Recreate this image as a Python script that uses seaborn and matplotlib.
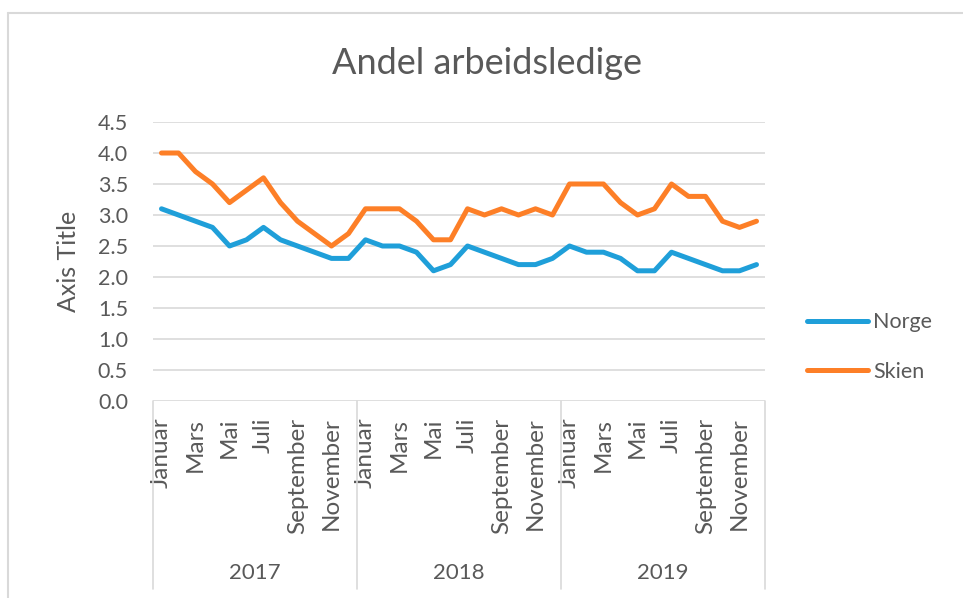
import matplotlib
matplotlib.use("Agg")
import matplotlib.pyplot as plt
import seaborn as sns
import pandas as pd
import numpy as np
from matplotlib.lines import Line2D
import matplotlib.transforms as mtransforms

years = ["2017", "2018", "2019"]
months = ["Januar", "Februar", "Mars", "April", "Mai", "Juni", "Juli",
          "August", "September", "Oktober", "November", "Desember"]
norge = [3.1, 3.0, 2.9, 2.8, 2.5, 2.6, 2.8, 2.6, 2.5, 2.4, 2.3, 2.3,
         2.6, 2.5, 2.5, 2.4, 2.1, 2.2, 2.5, 2.4, 2.3, 2.2, 2.2, 2.3,
         2.5, 2.4, 2.4, 2.3, 2.1, 2.1, 2.4, 2.3, 2.2, 2.1, 2.1, 2.2]
skien = [4.0, 4.0, 3.7, 3.5, 3.2, 3.4, 3.6, 3.2, 2.9, 2.7, 2.5, 2.7,
         3.1, 3.1, 3.1, 2.9, 2.6, 2.6, 3.1, 3.0, 3.1, 3.0, 3.1, 3.0,
         3.5, 3.5, 3.5, 3.2, 3.0, 3.1, 3.5, 3.3, 3.3, 2.9, 2.8, 2.9]
series_names = ["Norge", "Skien"]
colors = ["#1f9fd9", "#fd7f27"]
title = "Andel arbeidsledige"
y_title = "Axis Title"

sns.set_style("white")
plt.rcParams["font.family"] = ["Lato", "DejaVu Sans"]
TXT = "#595959"
GRID = "#d9d9d9"

n = len(norge)
idx = np.arange(n)
df = pd.DataFrame({
    "idx": np.concatenate([idx, idx]),
    "value": norge + skien,
    "series": [series_names[0]] * n + [series_names[1]] * n,
})

W, H = 963, 598
fig = plt.figure(figsize=(W / 100, H / 100), dpi=100)
ax = fig.add_axes([153 / W, 1 - 401 / H, (765 - 153) / W, (401 - 122) / H])

sns.lineplot(data=df, x="idx", y="value", hue="series",
             palette=dict(zip(series_names, colors)), ax=ax,
             linewidth=3.6, legend=False)
for ln in ax.get_lines():
    ln.set_solid_capstyle("round")
    ln.set_solid_joinstyle("round")
    ln.set_zorder(3)

ax.set_xlim(-0.5, n - 0.5)
ax.set_ylim(0, 4.5)
ax.set_yticks(np.arange(0, 4.51, 0.5))
ax.set_yticklabels([f"{v:.1f}" for v in np.arange(0, 4.51, 0.5)])
ax.yaxis.grid(True, color=GRID, linewidth=1.2)
ax.set_axisbelow(True)
for s in ax.spines.values():
    s.set_visible(False)
ax.tick_params(axis="y", length=0, pad=18, labelsize=15.5, labelcolor=TXT)

tick_pos = [i for i in idx if i % 2 == 0]
tick_lab = [months[i % 12] for i in tick_pos]
ax.set_xticks(tick_pos)
ax.set_xticklabels(tick_lab, rotation=90, va="top", ha="center")
ax.tick_params(axis="x", length=0, pad=12, labelsize=17.5, labelcolor=TXT)
ax.set_xlabel("")
ax.set_ylabel(y_title, fontsize=18, color=TXT, labelpad=13)

# category separators (multi-level axis)
trans = mtransforms.blended_transform_factory(ax.transData, ax.transAxes)
yb = (401 - 589) / (401 - 122)
for b in [-0.5, 11.5, 23.5, 35.5]:
    ax.add_line(Line2D([b, b], [0, yb], transform=trans, color=GRID,
                       linewidth=1.2, clip_on=False))
for k, yr in enumerate(years):
    ax.text(k * 12 + 5.5, (401 - 573) / (401 - 122), yr, transform=trans,
            ha="center", va="center", fontsize=16, color=TXT)

fig.text(487 / W, 1 - 63 / H, title, ha="center", va="center",
         fontsize=26, color=TXT, fontweight="normal")

handles = [Line2D([0], [0], color=c, linewidth=3.6, solid_capstyle="round")
           for c in colors]
fig.legend(handles, series_names, loc="center left",
           bbox_to_anchor=(788 / W, 1 - 347 / H), frameon=False,
           fontsize=15.5, labelcolor=TXT, handlelength=2.8,
           handletextpad=0.25, labelspacing=1.35)

# chart frame
fig.add_artist(Line2D([8 / W, 1], [1 - 13 / H, 1 - 13 / H],
                      transform=fig.transFigure, color=GRID, linewidth=1.5))
fig.add_artist(Line2D([8 / W, 8 / W], [0, 1 - 13 / H],
                      transform=fig.transFigure, color=GRID, linewidth=1.5))

fig.savefig("out.png", dpi=100)
